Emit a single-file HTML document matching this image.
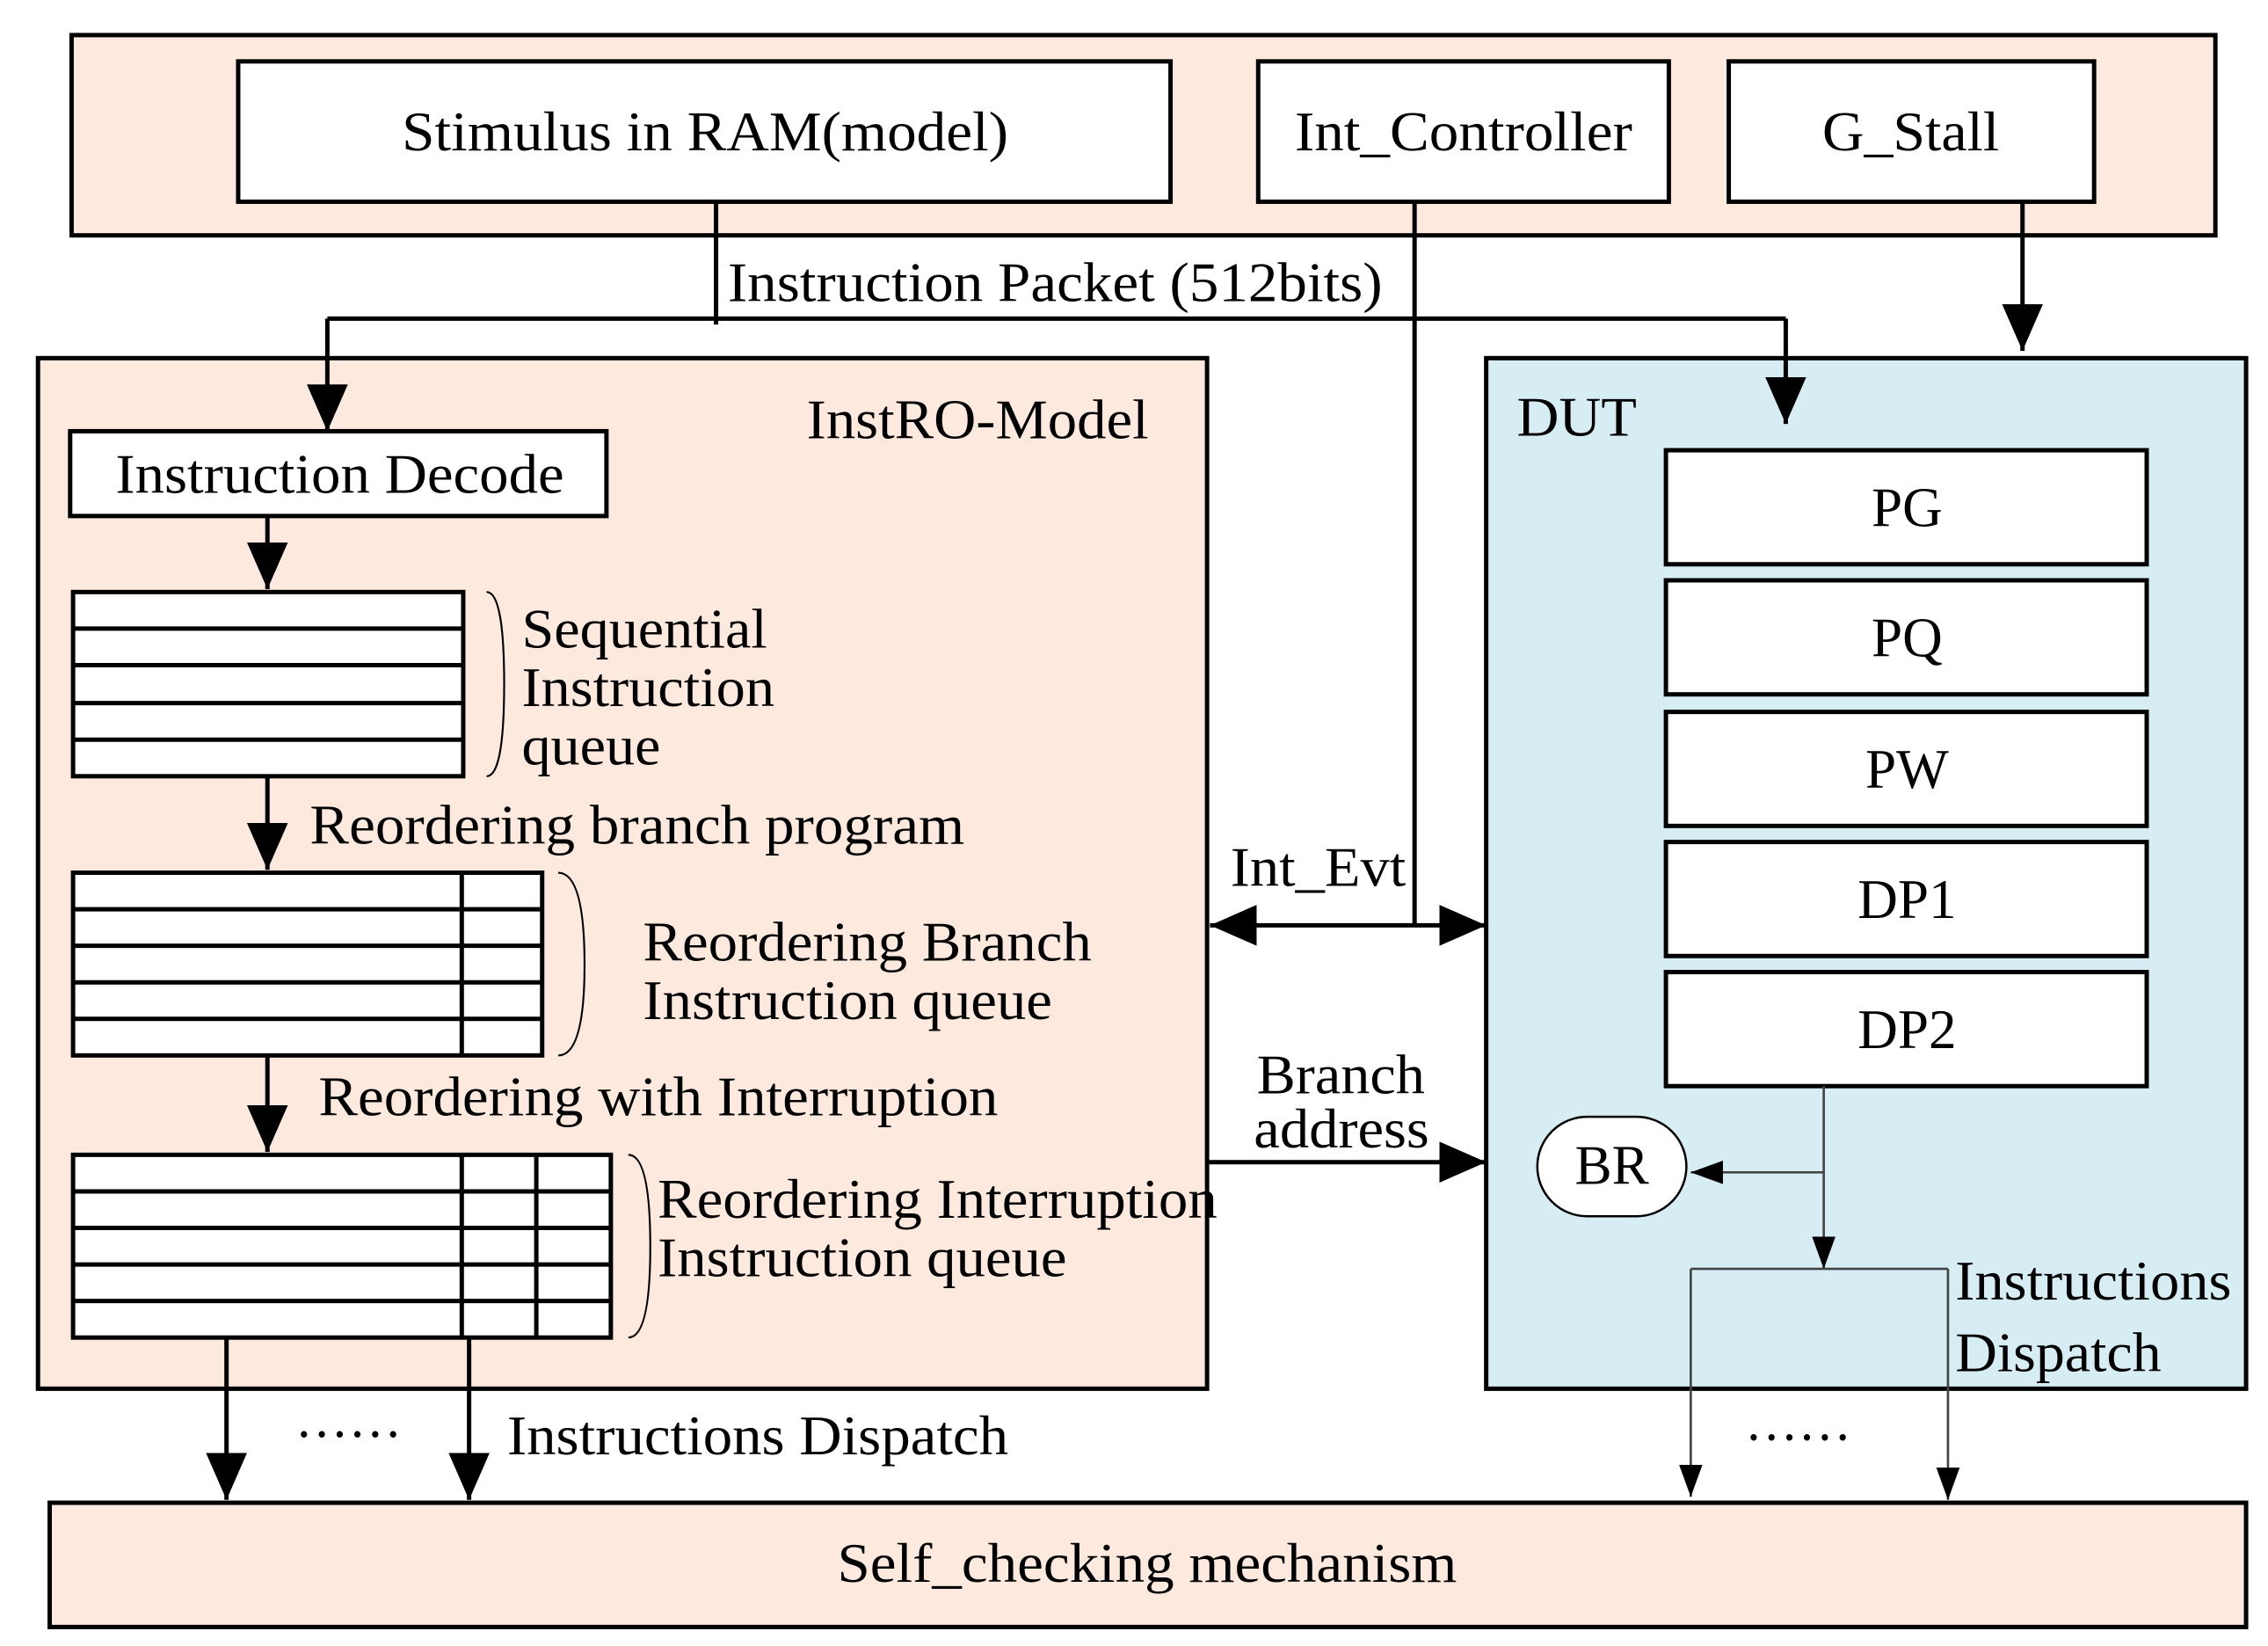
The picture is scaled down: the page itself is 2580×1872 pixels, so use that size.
<!DOCTYPE html>
<html><head><meta charset="utf-8"><style>html,body{margin:0;padding:0;background:#fff}svg{display:block}</style></head>
<body>
<svg width="2580" height="1872" viewBox="0 0 1552 1126" preserveAspectRatio="none" xmlns="http://www.w3.org/2000/svg" font-family="Liberation Serif, serif" font-size="38" fill="#000">
<defs>
<marker id="A" viewBox="0 0 10 10" refX="10" refY="5" markerWidth="32" markerHeight="28" orient="auto-start-reverse" markerUnits="userSpaceOnUse" preserveAspectRatio="none"><path d="M0,0 L10,5 L0,10z"/></marker>
<marker id="s" viewBox="0 0 10 10" refX="10" refY="5" markerWidth="22" markerHeight="16" orient="auto" markerUnits="userSpaceOnUse" preserveAspectRatio="none"><path d="M0,0 L10,5 L0,10z"/></marker>
</defs>
<g stroke="#000" stroke-width="3">
<rect x="49" y="24" width="1467" height="137" fill="#fde9dd"/>
<rect x="163" y="42" width="638" height="96" fill="#fff"/>
<rect x="861" y="42" width="281" height="96" fill="#fff"/>
<rect x="1183" y="42" width="250" height="96" fill="#fff"/>
<rect x="26" y="245" width="800" height="705" fill="#fde9dd"/>
<rect x="1017" y="245" width="520" height="705" fill="#d5edf3"/>
<rect x="34" y="1028" width="1503" height="85" fill="#fde9dd"/>
<rect x="48" y="295" width="367" height="58" fill="#fff"/>
<g fill="none">
<line x1="490" y1="138" x2="490" y2="222"/>
<line x1="224" y1="218" x2="1222" y2="218"/>
<line x1="224" y1="218" x2="224" y2="295" marker-end="url(#A)"/>
<line x1="1222" y1="218" x2="1222" y2="290" marker-end="url(#A)"/>
<line x1="968" y1="138" x2="968" y2="633"/>
<line x1="828" y1="633" x2="1017" y2="633" marker-start="url(#A)" marker-end="url(#A)"/>
<line x1="1384" y1="138" x2="1384" y2="240" marker-end="url(#A)"/>
<line x1="183" y1="353" x2="183" y2="403" marker-end="url(#A)"/>
<line x1="183" y1="531" x2="183" y2="595" marker-end="url(#A)"/>
<line x1="183" y1="722" x2="183" y2="788" marker-end="url(#A)"/>
<line x1="155" y1="915" x2="155" y2="1026" marker-end="url(#A)"/>
<line x1="321" y1="915" x2="321" y2="1026" marker-end="url(#A)"/>
<line x1="826" y1="795" x2="1017" y2="795" marker-end="url(#A)"/>
</g>
</g>
<g stroke="#000" stroke-width="3" fill="#fff">
<rect x="50" y="405" width="267" height="126"/>
<path d="M50,430H317M50,455H317M50,481H317M50,506H317" fill="none"/>
<rect x="50" y="597" width="321" height="125"/>
<path d="M50,622H371M50,647H371M50,672H371M50,697H371M316,597V722" fill="none"/>
<rect x="50" y="790" width="368" height="125"/>
<path d="M50,815H418M50,840H418M50,865H418M50,890H418M316,790V915M367,790V915" fill="none"/>
</g>
<g stroke="#000" stroke-width="1.3" fill="none">
<path d="M333,405 Q345,405 345,468 Q345,531 333,531"/>
<path d="M382,597 Q400,597 400,660 Q400,722 382,722"/>
<path d="M430,790 Q445,790 445,853 Q445,915 430,915"/>
</g>
<g stroke="#000" stroke-width="3" fill="#fff">
<rect x="1140" y="308" width="329" height="78"/>
<rect x="1140" y="397" width="329" height="78"/>
<rect x="1140" y="487" width="329" height="78"/>
<rect x="1140" y="576" width="329" height="78"/>
<rect x="1140" y="665" width="329" height="78"/>
</g>
<rect x="1052" y="764" width="102" height="68" rx="34" fill="#fff" stroke="#000" stroke-width="1.5"/>
<g stroke="#444" stroke-width="1.6" fill="none">
<line x1="1248" y1="743" x2="1248" y2="868" marker-end="url(#s)"/>
<line x1="1248" y1="802" x2="1157" y2="802" marker-end="url(#s)"/>
<path d="M1157,868H1333"/>
<line x1="1157" y1="868" x2="1157" y2="1024" marker-end="url(#s)"/>
<line x1="1333" y1="868" x2="1333" y2="1026" marker-end="url(#s)"/>
</g>
<g lengthAdjust="spacingAndGlyphs">
<text x="275" y="103" textLength="415" lengthAdjust="spacingAndGlyphs">Stimulus in RAM(model)</text>
<text x="886" y="103" textLength="231" lengthAdjust="spacingAndGlyphs">Int_Controller</text>
<text x="1247" y="103" textLength="121" lengthAdjust="spacingAndGlyphs">G_Stall</text>
<text x="498" y="206" textLength="448" lengthAdjust="spacingAndGlyphs">Instruction Packet (512bits)</text>
<text x="552" y="300" textLength="234" lengthAdjust="spacingAndGlyphs">InstRO-Model</text>
<text x="79" y="337" textLength="307" lengthAdjust="spacingAndGlyphs">Instruction Decode</text>
<text x="357" y="443" textLength="168" lengthAdjust="spacingAndGlyphs">Sequential</text>
<text x="357" y="483" textLength="173" lengthAdjust="spacingAndGlyphs">Instruction</text>
<text x="357" y="523" textLength="95" lengthAdjust="spacingAndGlyphs">queue</text>
<text x="212" y="577" textLength="448" lengthAdjust="spacingAndGlyphs">Reordering branch program</text>
<text x="440" y="657" textLength="307" lengthAdjust="spacingAndGlyphs">Reordering Branch</text>
<text x="440" y="697" textLength="280" lengthAdjust="spacingAndGlyphs">Instruction queue</text>
<text x="218" y="763" textLength="465" lengthAdjust="spacingAndGlyphs">Reordering with Interruption</text>
<text x="450" y="833" textLength="383" lengthAdjust="spacingAndGlyphs">Reordering Interruption</text>
<text x="450" y="873" textLength="280" lengthAdjust="spacingAndGlyphs">Instruction queue</text>
<text x="202" y="983" textLength="73" lengthAdjust="spacingAndGlyphs">……</text>
<text x="347" y="995" textLength="343" lengthAdjust="spacingAndGlyphs">Instructions Dispatch</text>
<text x="842" y="606" textLength="120" lengthAdjust="spacingAndGlyphs">Int_Evt</text>
<text x="860" y="748" textLength="115" lengthAdjust="spacingAndGlyphs">Branch</text>
<text x="858" y="785" textLength="120" lengthAdjust="spacingAndGlyphs">address</text>
<text x="1038" y="298" textLength="82" lengthAdjust="spacingAndGlyphs">DUT</text>
<text x="1305" y="360" text-anchor="middle">PG</text>
<text x="1305" y="449" text-anchor="middle">PQ</text>
<text x="1305" y="539" text-anchor="middle">PW</text>
<text x="1305" y="628" text-anchor="middle">DP1</text>
<text x="1305" y="717" text-anchor="middle">DP2</text>
<text x="1103" y="810" text-anchor="middle">BR</text>
<text x="1338" y="889" textLength="189" lengthAdjust="spacingAndGlyphs">Instructions</text>
<text x="1338" y="938" textLength="141" lengthAdjust="spacingAndGlyphs">Dispatch</text>
<text x="1194" y="985" textLength="73" lengthAdjust="spacingAndGlyphs">……</text>
<text x="573" y="1082" textLength="424" lengthAdjust="spacingAndGlyphs">Self_checking mechanism</text>
</g>
</svg>
</body></html>
